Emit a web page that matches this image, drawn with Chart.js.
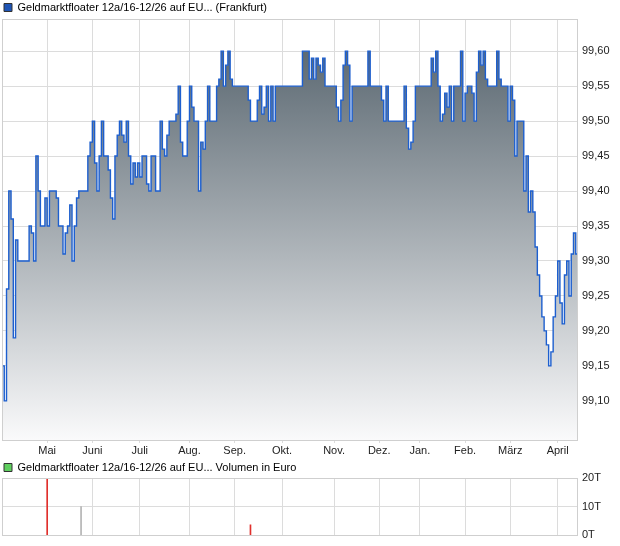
<!DOCTYPE html>
<html lang="de">
<head>
<meta charset="UTF-8" />
<title>Geldmarktfloater 12a/16-12/26</title>
<script src="https://cdn.jsdelivr.net/npm/chart.js@4.4.1/dist/chart.umd.min.js"></script>
<style>
  body { margin: 0; background: #fff; }
  .box { position: relative; width: 620px; }
</style>
</head>
<body>
<div class="box" style="height:460px"><canvas id="priceChart"></canvas></div>
<div class="box" style="height:86px"><canvas id="volChart"></canvas></div>
<script>
// Schlusskurse je Handelstag, nach Monaten
var apr = [99.15, 99.10, 99.26, 99.40, 99.36, 99.19, 99.33, 99.30, 99.30, 99.30, 99.30, 99.30, 99.35, 99.34, 99.30, 99.45, 99.40, 99.35, 99.35, 99.39];
var mai = [99.35, 99.40, 99.40, 99.40, 99.39, 99.35, 99.35, 99.31, 99.34, 99.35, 99.38, 99.30, 99.35, 99.39, 99.40, 99.40, 99.40, 99.40, 99.45, 99.47];
var jun = [99.50, 99.44, 99.40, 99.45, 99.50, 99.45, 99.45, 99.43, 99.39, 99.36, 99.45, 99.48, 99.50, 99.48, 99.47, 99.50, 99.45, 99.41, 99.44, 99.42, 99.44];
var jul = [99.42, 99.45, 99.45, 99.41, 99.40, 99.45, 99.45, 99.40, 99.40, 99.50, 99.46, 99.45, 99.48, 99.50, 99.50, 99.50, 99.51, 99.55, 99.47, 99.45, 99.45, 99.50];
var aug = [99.55, 99.52, 99.50, 99.50, 99.40, 99.47, 99.46, 99.50, 99.55, 99.50, 99.50, 99.50, 99.55, 99.56, 99.60, 99.55, 99.58, 99.60, 99.56, 99.55];
var sep = [99.55, 99.55, 99.55, 99.55, 99.55, 99.55, 99.53, 99.50, 99.50, 99.50, 99.53, 99.55, 99.51, 99.52, 99.55, 99.50, 99.55, 99.50, 99.55, 99.55, 99.55];
var okt = [99.55, 99.55, 99.55, 99.55, 99.55, 99.55, 99.55, 99.55, 99.55, 99.60, 99.60, 99.60, 99.56, 99.59, 99.56, 99.59, 99.58, 99.57, 99.59, 99.55, 99.55, 99.55, 99.55];
var nov = [99.55, 99.52, 99.50, 99.53, 99.58, 99.60, 99.58, 99.50, 99.55, 99.55, 99.55, 99.55, 99.55, 99.55, 99.55, 99.60, 99.55, 99.55, 99.55, 99.55];
var dez = [99.55, 99.53, 99.50, 99.55, 99.50, 99.50, 99.50, 99.50, 99.50, 99.50, 99.50, 99.55, 99.49, 99.46, 99.47, 99.50, 99.55, 99.55];
var jan = [99.55, 99.55, 99.55, 99.55, 99.55, 99.59, 99.57, 99.60, 99.55, 99.50, 99.51, 99.54, 99.52, 99.55, 99.50, 99.55, 99.55, 99.55, 99.60, 99.50];
var feb = [99.54, 99.55, 99.55, 99.54, 99.50, 99.57, 99.60, 99.58, 99.60, 99.56, 99.55, 99.55, 99.55, 99.55, 99.60, 99.56, 99.55, 99.55, 99.55, 99.50];
var maerz = [99.55, 99.53, 99.45, 99.50, 99.50, 99.50, 99.40, 99.45, 99.37, 99.40, 99.37, 99.32, 99.28, 99.25, 99.22, 99.20, 99.18, 99.15, 99.17, 99.22, 99.25];
var april = [99.30, 99.24, 99.21, 99.28, 99.30, 99.25, 99.31, 99.34, 99.31, 99.35];

var months = [apr, mai, jun, jul, aug, sep, okt, nov, dez, jan, feb, maerz, april];
var monthNames = ['Mai', 'Juni', 'Juli', 'Aug.', 'Sep.', 'Okt.', 'Nov.', 'Dez.', 'Jan.', 'Feb.', 'März', 'April'];
var priceTicks = [99.10, 99.15, 99.20, 99.25, 99.30, 99.35, 99.40, 99.45, 99.50, 99.55, 99.60];

// Umsatz (Handelstag-Nr., Euro)
var volDays = [20, 35, 110];
var volumes = [20000, 10000, 3700];
var volTicks = [0, 10000, 20000];

var prices = [].concat.apply([], months);
var monthStart = [];
var n = 0;
months.forEach(function (m, k) {
	if (k > 0) monthStart.push(n);
	n += m.length;
});

var font = { family: 'Liberation Sans, Arial, sans-serif', size: 11 };
var gridColor = '#dcdcdc';

var frame = {
	id: 'frame',
	afterDatasetsDraw: function (chart) {
		var a = chart.chartArea, c = chart.ctx;
		c.save();
		c.strokeStyle = '#cfcfcf';
		c.lineWidth = 1;
		c.strokeRect(Math.round(a.left) + 0.5, Math.round(a.top) + 0.5, Math.round(a.right - a.left) - 1, Math.round(a.bottom - a.top));
		c.restore();
	}
};

function legendOpts(fill, h) {
	return {
		align: 'start',
		maxHeight: h,
		labels: {
			boxWidth: 8,
			boxHeight: 8,
			padding: 2,
			color: '#222',
			font: font,
			generateLabels: function (chart) {
				return [{
					text: chart.data.datasets[0].label,
					fillStyle: fill,
					strokeStyle: '#333',
					lineWidth: 1,
					hidden: false,
					datasetIndex: 0
				}];
			}
		}
	};
}

function monthAxis(showLabels) {
	return {
		type: 'linear',
		min: 0,
		max: prices.length - 1,
		offset: false,
		afterBuildTicks: function (axis) {
			axis.ticks = monthStart.map(function (v) { return { value: v }; });
		},
		afterFit: function (axis) { axis.height = showLabels ? 20 : 0; },
		grid: { color: gridColor, drawTicks: showLabels, tickLength: 3, offset: false },
		border: { display: false },
		ticks: {
			display: showLabels,
			autoSkip: false,
			maxRotation: 0,
			padding: 1,
			color: '#222',
			font: font,
			callback: function (v) { return monthNames[monthStart.indexOf(v)]; }
		}
	};
}

new Chart(document.getElementById('priceChart'), {
	type: 'line',
	data: {
		datasets: [{
			label: 'Geldmarktfloater 12a/16-12/26 auf EU... (Frankfurt)',
			data: prices.map(function (p, i) { return { x: i, y: p }; }),
			stepped: true,
			borderColor: '#1d5fcf',
			borderWidth: 1.4,
			pointRadius: 0,
			fill: 'start',
			backgroundColor: function (ctx) {
				var area = ctx.chart.chartArea;
				if (!area) return 'rgba(0,0,0,0)';
				var g = ctx.chart.ctx.createLinearGradient(0, area.top, 0, area.bottom);
				g.addColorStop(0, '#505e68');
				g.addColorStop(1, '#fafafb');
				return g;
			}
		}]
	},
	options: {
		animation: false,
		responsive: true,
		maintainAspectRatio: false,
		layout: { padding: { left: 2, right: 0, top: 0, bottom: 0 } },
		plugins: {
			legend: legendOpts('#1f55b5', 19),
			tooltip: { enabled: false }
		},
		scales: {
			x: monthAxis(true),
			y: {
				position: 'right',
				min: 99.044,
				max: 99.646,
				afterBuildTicks: function (axis) {
					axis.ticks = priceTicks.map(function (v) { return { value: v }; });
				},
				afterFit: function (axis) { axis.width = 42; },
				grid: { color: gridColor, drawTicks: false },
				border: { display: false },
				ticks: {
					padding: 4,
					color: '#222',
					font: font,
					callback: function (v) { return v.toFixed(2).replace('.', ','); }
				}
			}
		}
	},
	plugins: [frame]
});

new Chart(document.getElementById('volChart'), {
	type: 'bar',
	data: {
		datasets: [{
			label: 'Geldmarktfloater 12a/16-12/26 auf EU... Volumen in Euro',
			data: volDays.map(function (d, k) { return { x: d, y: volumes[k] }; }),
			backgroundColor: volDays.map(function (d) {
				return prices[d] < prices[d - 1] ? '#e0302c' : '#b4b4b4';
			}),
			barThickness: 1
		}]
	},
	options: {
		animation: false,
		responsive: true,
		maintainAspectRatio: false,
		layout: { padding: { left: 2, right: 0, top: 0, bottom: 9 } },
		plugins: {
			legend: legendOpts('#5fcf5f', 18),
			tooltip: { enabled: false }
		},
		scales: {
			x: monthAxis(false),
			y: {
				position: 'right',
				min: 0,
				max: 20000,
				afterBuildTicks: function (axis) {
					axis.ticks = volTicks.map(function (v) { return { value: v }; });
				},
				afterFit: function (axis) { axis.width = 42; },
				grid: { color: gridColor, drawTicks: false },
				border: { display: false },
				ticks: {
					padding: 4,
					color: '#222',
					font: font,
					callback: function (v) { return (v / 1000) + 'T'; }
				}
			}
		}
	},
	plugins: [frame]
});
</script>
</body>
</html>
